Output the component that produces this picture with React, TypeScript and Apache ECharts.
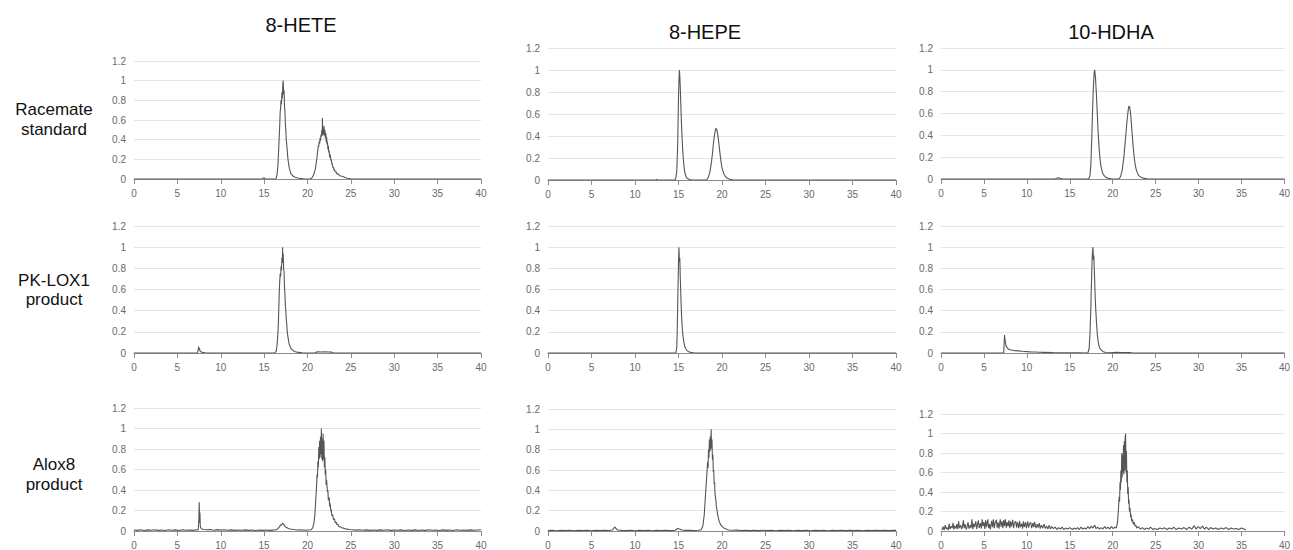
import React, { useEffect, useRef } from 'react';
import * as echarts from 'echarts';

const compounds = ['8-HETE', '8-HEPE', '10-HDHA'];
const sampleLabels = [['Racemate', 'standard'], ['PK-LOX1', 'product'], ['Alox8', 'product']];

const heteRacemate = [[0,0],[14.8,0],[14.9,0.01],[15.0,0.012],[15.1,0.003],[15.3,0],[16.3,0],[16.4,0.01],[16.5,0.05],[16.6,0.15],[16.7,0.35],[16.8,0.55],[16.85,0.68],[16.9,0.72],[16.95,0.8],[17.0,0.76],[17.05,0.88],[17.1,0.82],[17.15,0.96],[17.2,1.0],[17.25,0.86],[17.3,0.9],[17.35,0.74],[17.4,0.68],[17.45,0.56],[17.5,0.5],[17.55,0.4],[17.6,0.36],[17.7,0.25],[17.75,0.2],[17.8,0.17],[17.9,0.11],[18.0,0.08],[18.1,0.05],[18.2,0.045],[18.4,0.025],[18.6,0.018],[18.8,0.012],[19.0,0.008],[19.3,0.004],[19.6,0],[20.3,0],[20.5,0.01],[20.7,0.04],[20.9,0.1],[21.0,0.16],[21.1,0.22],[21.15,0.27],[21.2,0.3],[21.25,0.34],[21.3,0.33],[21.35,0.38],[21.4,0.36],[21.45,0.42],[21.5,0.39],[21.55,0.45],[21.6,0.43],[21.65,0.5],[21.7,0.44],[21.72,0.62],[21.75,0.46],[21.8,0.52],[21.85,0.45],[21.9,0.54],[21.95,0.44],[22.0,0.5],[22.05,0.42],[22.1,0.47],[22.15,0.38],[22.2,0.43],[22.25,0.35],[22.3,0.38],[22.35,0.3],[22.4,0.34],[22.45,0.27],[22.5,0.29],[22.55,0.22],[22.6,0.25],[22.7,0.19],[22.75,0.2],[22.8,0.15],[22.85,0.16],[22.9,0.12],[23.0,0.12],[23.05,0.09],[23.1,0.1],[23.2,0.07],[23.3,0.075],[23.4,0.05],[23.5,0.055],[23.6,0.04],[23.7,0.04],[23.8,0.03],[24.0,0.028],[24.2,0.02],[24.4,0.012],[24.6,0.008],[25.0,0.003],[25.5,0],[40,0]];

const hepeRacemate = [[0,0],[12.4,0],[12.5,0.005],[12.6,0],[14.6,0],[14.7,0.02],[14.8,0.08],[14.9,0.3],[15.0,0.75],[15.05,0.9],[15.1,1.0],[15.15,0.95],[15.2,0.85],[15.25,0.72],[15.3,0.6],[15.4,0.4],[15.5,0.25],[15.6,0.15],[15.7,0.08],[15.8,0.045],[15.9,0.025],[16.0,0.015],[16.2,0.006],[16.5,0],[18.2,0],[18.4,0.02],[18.6,0.07],[18.8,0.17],[18.9,0.24],[19.0,0.32],[19.1,0.39],[19.2,0.44],[19.3,0.47],[19.4,0.46],[19.5,0.42],[19.6,0.36],[19.7,0.29],[19.8,0.22],[19.9,0.16],[20.0,0.11],[20.2,0.06],[20.4,0.03],[20.6,0.015],[20.9,0.006],[21.3,0],[40,0]];

const hdhaRacemate = [[0,0],[13.3,0],[13.5,0.008],[13.7,0.012],[13.9,0.004],[14.2,0],[17.2,0],[17.35,0.03],[17.45,0.12],[17.55,0.35],[17.65,0.62],[17.75,0.85],[17.85,0.98],[17.9,1.0],[17.95,0.96],[18.0,0.92],[18.05,0.84],[18.1,0.78],[18.2,0.6],[18.3,0.43],[18.4,0.3],[18.5,0.2],[18.6,0.13],[18.7,0.09],[18.8,0.06],[19.0,0.03],[19.2,0.015],[19.5,0.006],[19.9,0],[20.7,0],[20.9,0.02],[21.1,0.08],[21.3,0.2],[21.5,0.38],[21.65,0.52],[21.8,0.63],[21.9,0.67],[22.0,0.65],[22.1,0.58],[22.2,0.48],[22.3,0.38],[22.4,0.28],[22.5,0.2],[22.6,0.14],[22.7,0.1],[22.8,0.07],[23.0,0.035],[23.2,0.02],[23.5,0.008],[24.0,0.002],[24.3,0],[40,0]];

const hetePkLox1 = [[0,0],[7.3,0],[7.4,0.03],[7.45,0.06],[7.5,0.035],[7.55,0.045],[7.6,0.02],[7.7,0.012],[7.9,0.006],[8.2,0.002],[8.5,0],[16.25,0],[16.4,0.02],[16.5,0.08],[16.6,0.2],[16.65,0.3],[16.7,0.45],[16.75,0.58],[16.8,0.68],[16.85,0.75],[16.9,0.72],[16.95,0.82],[17.0,0.78],[17.05,0.9],[17.1,0.85],[17.13,1.0],[17.15,0.88],[17.2,0.94],[17.25,0.8],[17.3,0.76],[17.35,0.62],[17.4,0.55],[17.45,0.45],[17.5,0.4],[17.55,0.32],[17.6,0.28],[17.65,0.22],[17.7,0.18],[17.75,0.15],[17.85,0.1],[17.9,0.08],[17.95,0.07],[18.05,0.05],[18.15,0.035],[18.25,0.03],[18.4,0.02],[18.6,0.012],[18.8,0.008],[19.0,0.006],[19.4,0.002],[19.8,0],[20.9,0],[21.0,0.008],[21.3,0.012],[21.6,0.01],[22.0,0.011],[22.4,0.009],[22.8,0.008],[23.0,0],[40,0]];

const hepePkLox1 = [[0,0],[14.7,0],[14.8,0.05],[14.85,0.2],[14.9,0.42],[14.95,0.65],[15.0,0.85],[15.05,1.0],[15.1,0.86],[15.15,0.9],[15.2,0.72],[15.25,0.6],[15.3,0.46],[15.35,0.36],[15.4,0.28],[15.45,0.22],[15.5,0.17],[15.6,0.11],[15.7,0.07],[15.8,0.045],[15.9,0.03],[16.1,0.015],[16.4,0.006],[16.8,0],[40,0]];

const hdhaPkLox1 = [[0,0],[7.3,0],[7.35,0.08],[7.4,0.17],[7.45,0.13],[7.5,0.1],[7.55,0.08],[7.6,0.065],[7.7,0.05],[7.8,0.04],[7.9,0.035],[8.0,0.03],[8.3,0.026],[8.6,0.022],[9.0,0.02],[9.5,0.016],[10.0,0.013],[10.5,0.01],[11.0,0.009],[11.5,0.007],[12.0,0.006],[13.0,0.004],[14.0,0.003],[15.0,0.002],[16.0,0.001],[17.1,0],[17.25,0.04],[17.35,0.18],[17.45,0.42],[17.5,0.6],[17.55,0.72],[17.6,0.9],[17.65,0.96],[17.7,1.0],[17.75,0.88],[17.8,0.92],[17.85,0.8],[17.9,0.68],[17.95,0.55],[18.0,0.45],[18.1,0.3],[18.2,0.18],[18.3,0.11],[18.4,0.07],[18.5,0.045],[18.7,0.025],[18.9,0.012],[19.2,0.005],[19.6,0.002],[20.0,0.004],[20.5,0.006],[21.0,0.005],[21.5,0.005],[22.0,0.004],[22.3,0],[40,0]];

const heteAlox8 = [[0,0.01],[0.4,0.006],[0.8,0.012],[1.2,0.005],[1.6,0.011],[2.0,0.007],[2.4,0.013],[2.8,0.006],[3.2,0.01],[3.6,0.005],[4.0,0.012],[4.4,0.008],[4.8,0.011],[5.2,0.005],[5.6,0.012],[6.0,0.007],[6.4,0.01],[6.8,0.006],[7.2,0.012],[7.4,0.01],[7.48,0.12],[7.52,0.28],[7.56,0.08],[7.6,0.18],[7.64,0.05],[7.7,0.03],[7.8,0.02],[8.0,0.015],[8.4,0.012],[8.8,0.014],[9.2,0.008],[9.6,0.013],[10.0,0.009],[10.4,0.012],[10.8,0.007],[11.2,0.011],[11.6,0.006],[12.0,0.01],[12.4,0.007],[12.8,0.011],[13.2,0.006],[13.6,0.01],[14.0,0.005],[14.4,0.009],[14.8,0.006],[15.2,0.01],[15.6,0.006],[16.0,0.009],[16.4,0.012],[16.6,0.025],[16.8,0.045],[16.9,0.06],[17.0,0.055],[17.1,0.075],[17.2,0.07],[17.3,0.06],[17.4,0.045],[17.6,0.035],[17.8,0.025],[18.0,0.02],[18.4,0.014],[18.8,0.01],[19.2,0.012],[19.6,0.008],[20.0,0.01],[20.4,0.012],[20.6,0.03],[20.75,0.08],[20.85,0.16],[20.95,0.3],[21.05,0.45],[21.1,0.55],[21.15,0.52],[21.2,0.68],[21.25,0.62],[21.3,0.82],[21.35,0.7],[21.4,0.88],[21.45,0.72],[21.5,0.92],[21.55,0.75],[21.6,1.0],[21.65,0.7],[21.7,0.9],[21.75,0.68],[21.8,0.95],[21.85,0.7],[21.9,0.88],[21.95,0.62],[22.0,0.72],[22.05,0.55],[22.1,0.6],[22.15,0.45],[22.2,0.5],[22.3,0.38],[22.35,0.4],[22.4,0.3],[22.5,0.33],[22.55,0.24],[22.6,0.27],[22.7,0.19],[22.75,0.21],[22.8,0.15],[22.9,0.16],[23.0,0.11],[23.1,0.12],[23.2,0.08],[23.3,0.09],[23.4,0.06],[23.5,0.065],[23.6,0.045],[23.8,0.04],[24.0,0.03],[24.2,0.028],[24.4,0.02],[24.6,0.018],[24.8,0.014],[25.2,0.012],[25.6,0.009],[26.0,0.012],[26.4,0.007],[26.8,0.011],[27.2,0.006],[27.6,0.01],[28.0,0.006],[28.4,0.011],[28.8,0.007],[29.2,0.012],[29.6,0.006],[30.0,0.01],[30.4,0.007],[30.8,0.011],[31.2,0.005],[31.6,0.01],[32.0,0.006],[32.4,0.011],[32.8,0.005],[33.2,0.01],[33.6,0.006],[34.0,0.012],[34.4,0.007],[34.8,0.01],[35.2,0.005],[35.6,0.011],[36.0,0.006],[36.4,0.01],[36.8,0.005],[37.2,0.012],[37.6,0.007],[38.0,0.01],[38.4,0.006],[38.8,0.011],[39.2,0.007],[39.6,0.01],[40.0,0.012]];

const hepeAlox8 = [[0,0.004],[0.5,0.007],[1.0,0.003],[1.5,0.006],[2.0,0.004],[2.5,0.008],[3.0,0.003],[3.5,0.006],[4.0,0.004],[4.5,0.007],[5.0,0.003],[5.5,0.006],[6.0,0.004],[6.5,0.007],[7.0,0.005],[7.4,0.01],[7.6,0.03],[7.7,0.04],[7.8,0.025],[8.0,0.01],[8.5,0.006],[9.0,0.004],[9.5,0.007],[10.0,0.003],[10.5,0.006],[11.0,0.004],[11.5,0.007],[12.0,0.003],[12.5,0.006],[13.0,0.004],[13.5,0.007],[14.0,0.004],[14.6,0.008],[14.9,0.025],[15.1,0.02],[15.4,0.01],[15.8,0.006],[16.3,0.008],[16.8,0.005],[17.3,0.008],[17.6,0.012],[17.8,0.05],[17.95,0.15],[18.05,0.28],[18.15,0.42],[18.25,0.55],[18.35,0.68],[18.4,0.62],[18.45,0.8],[18.5,0.72],[18.55,0.9],[18.6,0.78],[18.65,0.93],[18.7,0.8],[18.75,1.0],[18.8,0.82],[18.85,0.9],[18.9,0.7],[18.95,0.75],[19.0,0.58],[19.05,0.6],[19.1,0.46],[19.15,0.48],[19.2,0.36],[19.3,0.3],[19.35,0.24],[19.4,0.22],[19.5,0.16],[19.6,0.12],[19.7,0.09],[19.8,0.07],[19.9,0.055],[20.0,0.045],[20.2,0.03],[20.4,0.022],[20.6,0.015],[20.8,0.01],[21.2,0.007],[21.7,0.009],[22.2,0.005],[22.7,0.008],[23.2,0.004],[23.7,0.007],[24.2,0.004],[24.7,0.008],[25.2,0.004],[25.7,0.007],[26.2,0.003],[26.7,0.006],[27.2,0.004],[27.7,0.007],[28.2,0.003],[28.7,0.006],[29.2,0.004],[29.7,0.007],[30.2,0.003],[30.7,0.006],[31.2,0.004],[31.7,0.007],[32.2,0.003],[32.7,0.006],[33.2,0.004],[33.7,0.007],[34.2,0.004],[34.7,0.008],[35.2,0.004],[35.7,0.007],[36.2,0.003],[36.7,0.006],[37.2,0.004],[37.7,0.007],[38.2,0.004],[38.7,0.008],[39.2,0.005],[39.7,0.008],[40,0.006]];

const hdhaAlox8 = [[0.1,0.01],[0.25,0.045],[0.35,0.01],[0.5,0.06],[0.6,0.02],[0.7,0.035],[0.85,0.01],[0.95,0.075],[1.05,0.02],[1.2,0.05],[1.3,0.03],[1.4,0.085],[1.5,0.015],[1.6,0.055],[1.75,0.025],[1.85,0.07],[1.95,0.02],[2.05,0.1],[2.15,0.03],[2.3,0.06],[2.4,0.02],[2.5,0.045],[2.6,0.11],[2.7,0.03],[2.8,0.07],[2.95,0.015],[3.05,0.05],[3.15,0.09],[3.25,0.025],[3.4,0.06],[3.5,0.03],[3.6,0.12],[3.7,0.02],[3.8,0.075],[3.9,0.04],[4.05,0.1],[4.15,0.02],[4.25,0.065],[4.35,0.11],[4.45,0.03],[4.6,0.08],[4.7,0.025],[4.8,0.12],[4.9,0.05],[5.0,0.09],[5.1,0.02],[5.2,0.11],[5.3,0.04],[5.45,0.12],[5.55,0.03],[5.65,0.07],[5.75,0.015],[5.9,0.105],[6.0,0.04],[6.1,0.12],[6.2,0.03],[6.3,0.08],[6.45,0.115],[6.55,0.035],[6.65,0.09],[6.75,0.025],[6.9,0.12],[7.0,0.045],[7.1,0.1],[7.2,0.03],[7.3,0.115],[7.4,0.05],[7.5,0.12],[7.6,0.035],[7.7,0.09],[7.8,0.05],[7.9,0.11],[8.0,0.03],[8.1,0.1],[8.2,0.045],[8.35,0.115],[8.45,0.03],[8.55,0.08],[8.7,0.1],[8.8,0.035],[8.9,0.09],[9.05,0.03],[9.15,0.105],[9.25,0.04],[9.4,0.075],[9.5,0.025],[9.6,0.1],[9.7,0.04],[9.85,0.09],[9.95,0.03],[10.1,0.1],[10.2,0.035],[10.3,0.07],[10.45,0.09],[10.55,0.03],[10.7,0.08],[10.8,0.04],[10.9,0.095],[11.05,0.03],[11.2,0.07],[11.3,0.035],[11.45,0.08],[11.55,0.025],[11.7,0.06],[11.85,0.03],[12.0,0.07],[12.15,0.025],[12.3,0.05],[12.45,0.02],[12.6,0.06],[12.75,0.02],[12.9,0.045],[13.1,0.025],[13.3,0.04],[13.5,0.015],[13.7,0.035],[13.9,0.02],[14.1,0.04],[14.3,0.015],[14.5,0.03],[14.75,0.02],[15.0,0.035],[15.3,0.015],[15.5,0.03],[15.7,0.02],[15.9,0.035],[16.1,0.015],[16.3,0.04],[16.5,0.02],[16.7,0.03],[16.9,0.02],[17.1,0.045],[17.3,0.025],[17.5,0.05],[17.7,0.03],[17.9,0.06],[18.05,0.025],[18.25,0.04],[18.45,0.02],[18.65,0.035],[18.85,0.02],[19.05,0.045],[19.25,0.025],[19.45,0.04],[19.65,0.02],[19.85,0.045],[20.05,0.025],[20.25,0.04],[20.4,0.03],[20.55,0.08],[20.65,0.2],[20.75,0.35],[20.8,0.3],[20.85,0.5],[20.9,0.42],[20.95,0.62],[21.0,0.5],[21.05,0.8],[21.1,0.55],[21.15,0.78],[21.2,0.6],[21.25,0.88],[21.3,0.58],[21.35,0.92],[21.4,0.62],[21.45,0.96],[21.5,1.0],[21.55,0.6],[21.6,0.82],[21.65,0.5],[21.7,0.62],[21.75,0.38],[21.8,0.45],[21.85,0.28],[21.9,0.32],[21.95,0.2],[22.0,0.24],[22.1,0.14],[22.15,0.17],[22.2,0.1],[22.3,0.12],[22.4,0.07],[22.5,0.09],[22.6,0.05],[22.7,0.06],[22.8,0.03],[23.0,0.045],[23.2,0.02],[23.45,0.035],[23.7,0.015],[23.9,0.03],[24.2,0.02],[24.4,0.04],[24.7,0.015],[24.9,0.025],[25.2,0.015],[25.5,0.03],[25.8,0.02],[26.0,0.035],[26.3,0.015],[26.6,0.03],[26.9,0.02],[27.1,0.04],[27.4,0.015],[27.7,0.03],[28.0,0.02],[28.3,0.035],[28.6,0.015],[28.9,0.04],[29.2,0.02],[29.5,0.055],[29.7,0.02],[29.95,0.045],[30.2,0.025],[30.45,0.05],[30.7,0.02],[30.9,0.04],[31.2,0.015],[31.4,0.035],[31.7,0.02],[32.0,0.03],[32.3,0.015],[32.6,0.03],[32.9,0.02],[33.2,0.035],[33.5,0.015],[33.8,0.03],[34.1,0.02],[34.4,0.025],[34.7,0.015],[35.0,0.03],[35.3,0.02],[35.5,0.01]];

// rows = samples, columns = compounds
const panelData = [
  [heteRacemate, hepeRacemate, hdhaRacemate],
  [hetePkLox1, hepePkLox1, hdhaPkLox1],
  [heteAlox8, hepeAlox8, hdhaAlox8],
];

const colLeft = [134, 548, 941];
const colWidth = [347, 348, 346];
const panelTop = [[61, 48, 48], [226, 226, 226], [408, 409, 414]];
const panelHeight = [[118, 132, 131], [127, 127, 127], [126, 126, 120]];

const titlePos = [[301, 25], [705, 32], [1111, 32]];
const rowLabelPos = [[109, 129], [280, 299], [464, 484]];

const FONT = 'Liberation Sans, Arial, Helvetica, sans-serif';

export default function App() {
  const ref = useRef<HTMLDivElement>(null);
  useEffect(() => {
    if (!ref.current) return;
    const chart = echarts.init(ref.current, undefined, { renderer: 'svg' });
    const grids: any[] = [];
    const xAxes: any[] = [];
    const yAxes: any[] = [];
    const series: any[] = [];
    let idx = 0;
    for (let r = 0; r < 3; r++) {
      for (let c = 0; c < 3; c++) {
        grids.push({ left: colLeft[c], top: panelTop[r][c], width: colWidth[c], height: panelHeight[r][c], containLabel: false });
        xAxes.push({
          type: 'value', gridIndex: idx, min: 0, max: 40, interval: 5,
          axisLine: { show: true, lineStyle: { color: '#8c8c8c', width: 1 } },
          axisTick: { show: true, length: 5, lineStyle: { color: '#8c8c8c' } },
          axisLabel: { color: '#6a6a6a', fontSize: 10, margin: 9, fontFamily: FONT },
          splitLine: { show: false },
        });
        yAxes.push({
          type: 'value', gridIndex: idx, min: 0, max: 1.2, interval: 0.2,
          axisLine: { show: false }, axisTick: { show: false },
          axisLabel: { color: '#6a6a6a', fontSize: 10, margin: 8, fontFamily: FONT },
          splitLine: { show: true, lineStyle: { color: '#e4e4e4', width: 1 } },
        });
        series.push({
          type: 'line', xAxisIndex: idx, yAxisIndex: idx, data: panelData[r][c],
          symbol: 'none', showSymbol: false, silent: true,
          lineStyle: { color: '#555555', width: 1.1 },
        });
        idx++;
      }
    }
    const graphics: any[] = [];
    compounds.forEach((name, i) => {
      graphics.push({ type: 'text', x: titlePos[i][0], y: titlePos[i][1], style: { text: name, fontSize: 20, fontFamily: FONT, fill: '#111', align: 'center', verticalAlign: 'middle', textAlign: 'center', textVerticalAlign: 'middle' } });
    });
    sampleLabels.forEach((lines, i) => {
      lines.forEach((ln, j) => {
        graphics.push({ type: 'text', x: 54, y: rowLabelPos[i][j], style: { text: ln, fontSize: 17, fontFamily: FONT, fill: '#111', align: 'center', verticalAlign: 'middle', textAlign: 'center', textVerticalAlign: 'middle' } });
      });
    });
    chart.setOption({
      animation: false,
      backgroundColor: '#ffffff',
      grid: grids, xAxis: xAxes, yAxis: yAxes, series,
      graphic: graphics,
    });
    return () => chart.dispose();
  }, []);
  return <div ref={ref} style={{ position: 'fixed', left: 0, top: 0, width: 1293, height: 550 }} />;
}
